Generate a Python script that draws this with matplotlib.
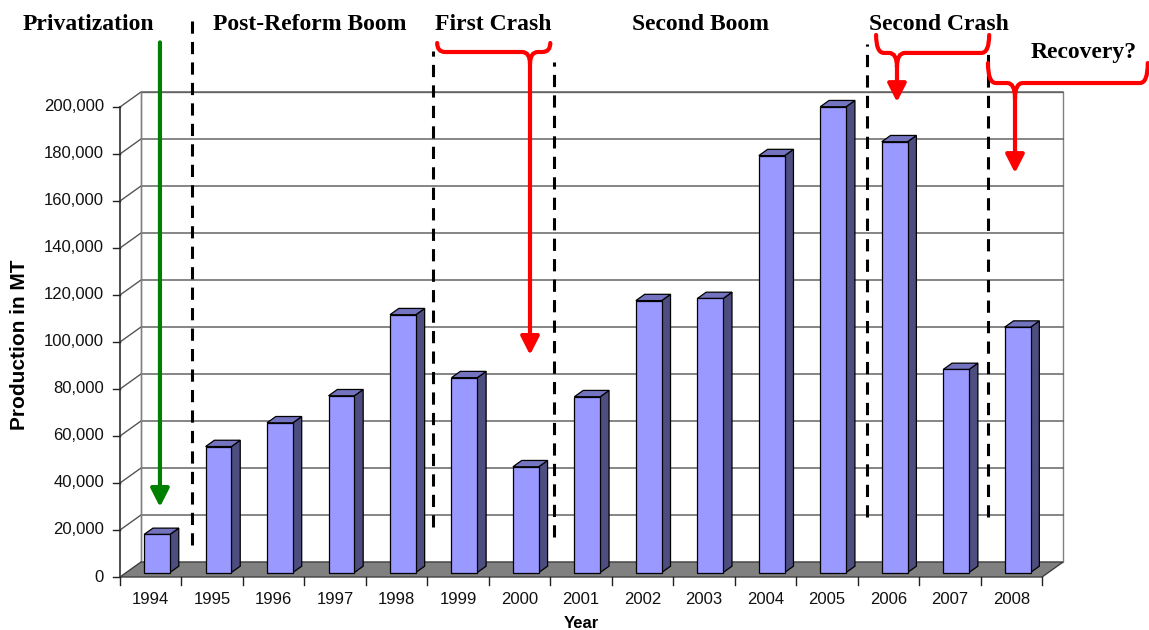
import numpy as np
import matplotlib.pyplot as plt
from matplotlib.path import Path
from matplotlib.patches import Polygon, PathPatch

# data
years = ['1994', '1995', '1996', '1997', '1998', '1999', '2000', '2001',
         '2002', '2003', '2004', '2005', '2006', '2007', '2008']
production = [16200, 53600, 63700, 75200, 109700, 82900, 45000, 74800,
              115700, 116600, 177400, 198200, 183300, 86400, 104400]
y_ticks = list(range(0, 200001, 20000))

phase_titles = ['Privatization', 'Post-Reform Boom', 'First Crash',
                'Second Boom', 'Second Crash', 'Recovery?']
phase_x = [-1.02, 2.59, 5.58, 8.95, 12.82, 15.17]
phase_y = [235300, 235300, 235300, 235300, 235300, 223000]

# dashed separators (x in category units, y range in MT)
sep_x = [0.67, 4.59, 6.56, 11.65, 13.62]
sep_top = [240000, 224000, 219000, 227000, 224000]
sep_bot = [13600, 21300, 17000, 25500, 25500]

# ---- geometry of the fake 3d box
PX_X = 1 / 61.47        # category units per pixel
PX_Y = 425.53           # MT per pixel
DX = 21 * PX_X          # depth offset
DY = 15 * PX_Y
F1, F2 = 0.3, 0.72      # front / back of bars as fraction of depth
BW = 0.42               # bar width

fig = plt.figure(figsize=(11.49, 6.30), dpi=100)
ax = fig.add_axes([0, 0, 1, 1])
ax.set_xlim(-0.5 - 120 * PX_X, -0.5 + 1029 * PX_X)
ax.set_ylim(-53 * PX_Y, 577 * PX_Y)
ax.axis('off')

n = len(years)
xl, xr = -0.5, n - 0.5
ymax = y_ticks[-1]

# back wall
ax.add_patch(Polygon([(xl + DX, DY), (xr + DX, DY), (xr + DX, ymax + DY), (xl + DX, ymax + DY)],
                     closed=True, facecolor='white', edgecolor='#808080', lw=1, zorder=1))
# grid lines on side wall and back wall
for v in y_ticks[1:]:
    ax.plot([xl, xl + DX, xr + DX], [v, v + DY, v + DY], color='#555555', lw=1, zorder=2)
ax.plot([xl + DX, xl + DX], [DY, ymax + DY], color='#808080', lw=1, zorder=2)

# floor
ax.add_patch(Polygon([(xl, 0), (xr, 0), (xr + DX, DY), (xl + DX, DY)], closed=True,
                     facecolor='#808080', edgecolor='#404040', lw=1, zorder=3))

# front value axis
ax.plot([xl, xl], [0, ymax], color='#404040', lw=1.3, zorder=4)
for v in y_ticks:
    ax.plot([xl - 7 * PX_X, xl], [v, v], color='#202020', lw=1, zorder=4)
    ax.text(xl - 16 * PX_X, v, f'{v:,}', ha='right', va='center', fontsize=12,
            family='Liberation Sans', color='#111111')
ax.text(xl - 100 * PX_X, 98700, 'Production in MT', rotation=90, ha='center', va='center',
        fontsize=15, fontweight='bold', family='Liberation Sans')

# category axis
for k in range(n + 1):
    ax.plot([k - 0.5, k - 0.5], [0, -8 * PX_Y], color='#202020', lw=1, zorder=4)
for i, yr in enumerate(years):
    ax.text(i, -23 * PX_Y, yr, ha='center', va='center', fontsize=12, family='Liberation Sans',
            color='#111111')
ax.text((n - 1) / 2 + 0.0, -47 * PX_Y, 'Year', ha='center', va='center', fontsize=12,
        fontweight='bold', family='Liberation Sans')

# bars
dd = F2 - F1
for i, v in enumerate(production):
    x0 = i - BW / 2 + F1 * DX
    x1 = x0 + BW
    y0 = F1 * DY
    front = [(x0, y0), (x1, y0), (x1, y0 + v), (x0, y0 + v)]
    side = [(x1, y0), (x1 + dd * DX, y0 + dd * DY), (x1 + dd * DX, y0 + v + dd * DY), (x1, y0 + v)]
    top = [(x0, y0 + v), (x1, y0 + v), (x1 + dd * DX, y0 + v + dd * DY), (x0 + dd * DX, y0 + v + dd * DY)]
    ax.add_patch(Polygon(side, closed=True, facecolor='#4d4d80', edgecolor='black', lw=0.9, zorder=5))
    ax.add_patch(Polygon(top, closed=True, facecolor='#7373bf', edgecolor='black', lw=0.9, zorder=5))
    ax.add_patch(Polygon(front, closed=True, facecolor='#9999ff', edgecolor='black', lw=0.9, zorder=6))

# dashed separators
for x, t, b in zip(sep_x, sep_top, sep_bot):
    ax.plot([x, x], [b, t], color='black', lw=2.2, linestyle=(0, (4, 2.7)), zorder=7)

# phase titles
for s, x, y in zip(phase_titles, phase_x, phase_y):
    ax.text(x, y, s, ha='center', va='center', fontsize=17, fontweight='bold',
            family='Liberation Serif')


def arrow(x, y_from, y_to, color):
    ax.annotate('', xy=(x, y_to), xytext=(x, y_from),
                arrowprops=dict(arrowstyle='-|>,head_length=0.55,head_width=0.28',
                                color=color, lw=3, mutation_scale=20,
                                shrinkA=0, shrinkB=0), zorder=8)


def brace(x_left, x_right, x_cusp, y_line, y_tip, rise, drop, curl=8):
    # rise / drop / curl are pixel sizes of the curly ends
    rx, ry, dy = curl * PX_X, rise * PX_Y, drop * PX_Y
    verts = [(x_left, y_line + ry), (x_left, y_line), (x_left + rx, y_line),
             (x_cusp - rx, y_line),
             (x_cusp, y_line), (x_cusp, y_line - dy),
             (x_cusp, y_line), (x_cusp + rx, y_line),
             (x_right - rx, y_line),
             (x_right, y_line), (x_right, y_line + ry)]
    codes = [Path.MOVETO, Path.CURVE3, Path.CURVE3,
             Path.LINETO,
             Path.CURVE3, Path.CURVE3,
             Path.CURVE3, Path.CURVE3,
             Path.LINETO,
             Path.CURVE3, Path.CURVE3]
    ax.add_patch(PathPatch(Path(verts, codes), facecolor='none', edgecolor='red',
                           lw=3, capstyle='round', zorder=8))
    arrow(x_cusp, y_line - dy + 2 * PX_Y, y_tip, 'red')


# green arrow: privatization
arrow(0.15, 227500, 29800, 'green')

# red braces
brace(4.66, 6.50, 6.17, 223400, 94500, rise=9, drop=12)
brace(11.80, 13.64, 12.14, 223000, 202100, rise=18, drop=14)
brace(13.62, 16.22, 14.06, 210200, 171900, rise=20, drop=15)

fig.savefig('out.png', dpi=100)
